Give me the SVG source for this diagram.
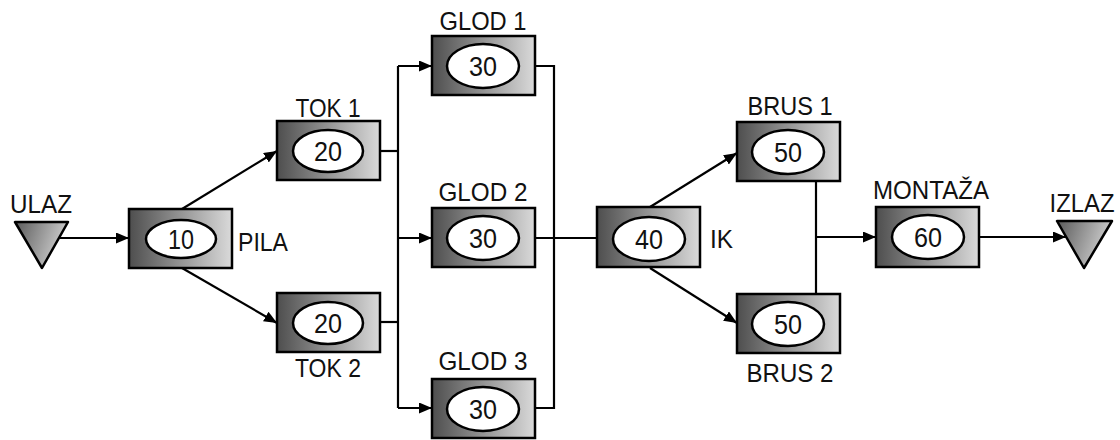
<svg xmlns="http://www.w3.org/2000/svg" width="1120" height="440" viewBox="0 0 1120 440">
<defs>
<linearGradient id="boxg" x1="0" y1="0" x2="1" y2="0">
<stop offset="0" stop-color="#4e4e4e"/>
<stop offset="1" stop-color="#dadada"/>
</linearGradient>
<linearGradient id="trig" x1="0" y1="0" x2="1" y2="0.3">
<stop offset="0" stop-color="#5a5a5a"/>
<stop offset="1" stop-color="#d0d0d0"/>
</linearGradient>
<marker id="arr" viewBox="0 0 13 11" refX="13" refY="5.5" markerWidth="13" markerHeight="11" markerUnits="userSpaceOnUse" orient="auto">
<path d="M0,0 L13,5.5 L0,11 Z" fill="#000"/>
</marker>
</defs>
<style>
.box{fill:url(#boxg);stroke:#000;stroke-width:2.5}
.tri{fill:url(#trig);stroke:#000;stroke-width:2.5;stroke-linejoin:round}
.ell{fill:#fff;stroke:#000;stroke-width:2.5}
.num{font-family:"Liberation Sans",Arial,sans-serif;font-size:28px;fill:#111;text-anchor:middle}
.lbl{font-family:"Liberation Sans",Arial,sans-serif;font-size:25px;fill:#111;text-anchor:middle}
.lbls{font-family:"Liberation Sans",Arial,sans-serif;font-size:25px;fill:#111;text-anchor:start}
.con{fill:none;stroke:#000;stroke-width:2.2}
.arw{fill:none;stroke:#000;stroke-width:2.2;marker-end:url(#arr)}
</style>
<rect width="1120" height="440" fill="#fff"/>
<g id="connectors">
<line class="arw" x1="60" y1="238" x2="129" y2="238"/>
<line class="arw" x1="182" y1="209" x2="277" y2="151"/>
<line class="arw" x1="182" y1="268" x2="277" y2="323"/>
<polyline class="con" points="380,151 398,151"/>
<polyline class="con" points="380,322 398,322"/>
<line class="con" x1="398" y1="66" x2="398" y2="408"/>
<polyline class="arw" points="398,66 432,66"/>
<polyline class="arw" points="398,238 432,238"/>
<polyline class="arw" points="398,408 432,408"/>
<polyline class="con" points="535,66 554,66 554,408 535,408"/>
<polyline class="con" points="535,238 597,238"/>
<line class="arw" x1="650" y1="207" x2="737" y2="153"/>
<line class="arw" x1="650" y1="268" x2="737" y2="323"/>
<line class="con" x1="816" y1="181" x2="816" y2="294"/>
<line class="arw" x1="816" y1="237" x2="876" y2="237"/>
<line class="arw" x1="979" y1="237" x2="1066" y2="237"/>
</g>
<g id="ulaz">
<polygon class="tri" points="15,222 68,222 42,268"/>
<text class="lbl" x="41" y="213" textLength="62" lengthAdjust="spacingAndGlyphs">ULAZ</text>
</g>
<g id="pila">
<rect class="box" x="129" y="209" width="103" height="59"/>
<ellipse class="ell" cx="181" cy="239" rx="35" ry="19"/>
<text class="num" x="181" y="249" textLength="26" lengthAdjust="spacingAndGlyphs">10</text>
<text class="lbls" x="238" y="251" textLength="50" lengthAdjust="spacingAndGlyphs">PILA</text>
</g>
<g id="tok1">
<rect class="box" x="277" y="121" width="103" height="59"/>
<ellipse class="ell" cx="328" cy="151" rx="35" ry="21"/>
<text class="num" x="328" y="161" textLength="28" lengthAdjust="spacingAndGlyphs">20</text>
<text class="lbl" x="328" y="117" textLength="65" lengthAdjust="spacingAndGlyphs">TOK 1</text>
</g>
<g id="tok2">
<rect class="box" x="277" y="293" width="103" height="59"/>
<ellipse class="ell" cx="328" cy="323" rx="35" ry="21"/>
<text class="num" x="328" y="333" textLength="28" lengthAdjust="spacingAndGlyphs">20</text>
<text class="lbl" x="328" y="377" textLength="66" lengthAdjust="spacingAndGlyphs">TOK 2</text>
</g>
<g id="glod1">
<rect class="box" x="432" y="36" width="103" height="59"/>
<ellipse class="ell" cx="483" cy="66" rx="36" ry="22"/>
<text class="num" x="483" y="76" textLength="28" lengthAdjust="spacingAndGlyphs">30</text>
<text class="lbl" x="483" y="30" textLength="87" lengthAdjust="spacingAndGlyphs">GLOD 1</text>
</g>
<g id="glod2">
<rect class="box" x="432" y="208" width="103" height="59"/>
<ellipse class="ell" cx="483" cy="238" rx="36" ry="22"/>
<text class="num" x="483" y="248" textLength="28" lengthAdjust="spacingAndGlyphs">30</text>
<text class="lbl" x="483" y="201" textLength="89" lengthAdjust="spacingAndGlyphs">GLOD 2</text>
</g>
<g id="glod3">
<rect class="box" x="432" y="379" width="103" height="59"/>
<ellipse class="ell" cx="483" cy="409" rx="36" ry="22"/>
<text class="num" x="483" y="419" textLength="28" lengthAdjust="spacingAndGlyphs">30</text>
<text class="lbl" x="483" y="370" textLength="89" lengthAdjust="spacingAndGlyphs">GLOD 3</text>
</g>
<g id="ik">
<rect class="box" x="597" y="207" width="103" height="60"/>
<ellipse class="ell" cx="649" cy="239" rx="36" ry="22"/>
<text class="num" x="649" y="249" textLength="28" lengthAdjust="spacingAndGlyphs">40</text>
<text class="lbls" x="710" y="248" textLength="23" lengthAdjust="spacingAndGlyphs">IK</text>
</g>
<g id="brus1">
<rect class="box" x="737" y="122" width="103" height="59"/>
<ellipse class="ell" cx="788" cy="152" rx="36" ry="22"/>
<text class="num" x="788" y="162" textLength="28" lengthAdjust="spacingAndGlyphs">50</text>
<text class="lbl" x="790" y="115" textLength="85" lengthAdjust="spacingAndGlyphs">BRUS 1</text>
</g>
<g id="brus2">
<rect class="box" x="737" y="294" width="103" height="59"/>
<ellipse class="ell" cx="788" cy="324" rx="36" ry="22"/>
<text class="num" x="788" y="334" textLength="28" lengthAdjust="spacingAndGlyphs">50</text>
<text class="lbl" x="790" y="382" textLength="87" lengthAdjust="spacingAndGlyphs">BRUS 2</text>
</g>
<g id="montaza">
<rect class="box" x="876" y="207" width="103" height="60"/>
<ellipse class="ell" cx="928" cy="237" rx="36" ry="22"/>
<text class="num" x="928" y="247" textLength="28" lengthAdjust="spacingAndGlyphs">60</text>
<text class="lbl" x="931" y="199" textLength="116" lengthAdjust="spacingAndGlyphs">MONTAŽA</text>
</g>
<g id="izlaz">
<polygon class="tri" points="1057,221 1112,221 1084,268"/>
<text class="lbl" x="1082" y="212" textLength="65" lengthAdjust="spacingAndGlyphs">IZLAZ</text>
</g>
</svg>
